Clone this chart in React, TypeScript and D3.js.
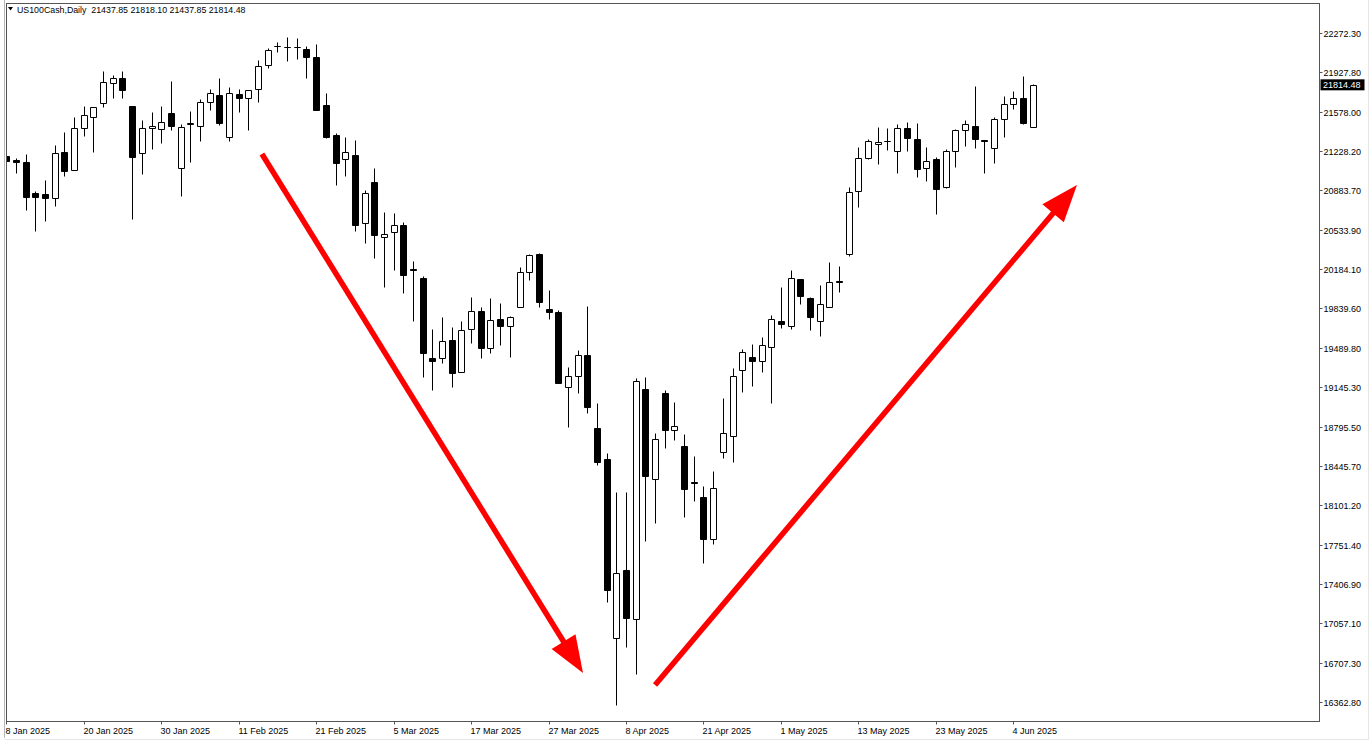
import React from "react";
import * as d3 from "d3";

// ---------- data ----------
const dates = [
  "2025-01-08","2025-01-09","2025-01-10","2025-01-13","2025-01-14","2025-01-15","2025-01-16","2025-01-17","2025-01-20","2025-01-21",
  "2025-01-22","2025-01-23","2025-01-24","2025-01-27","2025-01-28","2025-01-29","2025-01-30","2025-01-31","2025-02-03","2025-02-04",
  "2025-02-05","2025-02-06","2025-02-07","2025-02-10","2025-02-11","2025-02-12","2025-02-13","2025-02-14","2025-02-17","2025-02-18",
  "2025-02-19","2025-02-20","2025-02-21","2025-02-24","2025-02-25","2025-02-26","2025-02-27","2025-02-28","2025-03-03","2025-03-04",
  "2025-03-05","2025-03-06","2025-03-07","2025-03-10","2025-03-11","2025-03-12","2025-03-13","2025-03-14","2025-03-17","2025-03-18",
  "2025-03-19","2025-03-20","2025-03-21","2025-03-24","2025-03-25","2025-03-26","2025-03-27","2025-03-28","2025-03-31","2025-04-01",
  "2025-04-02","2025-04-03","2025-04-04","2025-04-07","2025-04-08","2025-04-09","2025-04-10","2025-04-11","2025-04-14","2025-04-15",
  "2025-04-16","2025-04-17","2025-04-21","2025-04-22","2025-04-23","2025-04-24","2025-04-25","2025-04-28","2025-04-29","2025-04-30",
  "2025-05-01","2025-05-02","2025-05-05","2025-05-06","2025-05-07","2025-05-08","2025-05-09","2025-05-12","2025-05-13","2025-05-14",
  "2025-05-15","2025-05-16","2025-05-19","2025-05-20","2025-05-21","2025-05-22","2025-05-23","2025-05-26","2025-05-27","2025-05-28",
  "2025-05-29","2025-05-30","2025-06-02","2025-06-03","2025-06-04","2025-06-05","2025-06-06"
];

const opens = [
  21186,21151,21133,20859,20850,20815,21221,21062,21433,21530,
  21654,21831,21875,21628,21213,21433,21424,21566,21080,21469,
  21451,21663,21725,21354,21734,21698,21778,21990,22158,22149,
  22149,22131,22060,21636,21371,21160,21195,20594,20956,20471,
  20515,20577,20188,20108,19402,19402,19561,19278,19658,19817,
  19490,19746,19684,19852,20161,20320,19835,19808,19146,19243,
  19428,18783,18510,16928,17529,17096,19128,18333,19093,18766,
  18624,18306,18174,17803,18571,18713,19296,19411,19375,19499,
  19729,19684,20100,19932,19729,19852,20082,20320,20877,21168,
  21292,21318,21230,21433,21336,21080,21160,20912,21230,21416,
  21451,21327,21257,21513,21645,21698,21437.85
];
const highs = [
  21265,21168,21204,20877,20974,21283,21398,21530,21628,21619,
  21937,21901,21937,21628,21504,21575,21628,21848,21469,21583,
  21689,21778,21875,21795,21778,21769,22034,22140,22193,22237,
  22228,22158,22175,21742,21389,21354,21327,20886,21080,20691,
  20683,20603,20259,20126,19658,19764,19676,19729,19941,19852,
  19932,19888,19773,20206,20320,20329,20002,19826,19322,19472,
  19861,19004,18563,18218,18218,19225,19234,18739,19119,19013,
  18730,18536,18271,18404,19048,19313,19481,19525,19587,19782,
  20029,20179,20100,19941,20047,20250,20214,20912,21265,21336,
  21442,21433,21469,21486,21477,21265,21177,21248,21424,21504,
  21804,21330,21530,21716,21760,21893,21818.10
];
const lows = [
  20992,21036,20709,20524,20612,20744,21009,21062,21363,21221,
  21619,21698,21698,20630,21027,21248,21301,21416,20833,21133,
  21318,21592,21460,21318,21575,21416,21663,21963,22105,22025,
  22043,21875,21592,21345,20930,21009,20524,20418,20285,20029,
  20179,19976,19729,19234,19119,19358,19146,19278,19534,19402,
  19446,19517,19411,19852,20091,19852,19746,19181,18792,19093,
  18916,18457,17246,16337,16849,16611,17785,17944,18607,18677,
  17997,18139,17591,17759,18518,18483,19101,19154,19278,19004,
  19667,19658,19879,19649,19596,19852,19985,20303,20736,21160,
  21115,21239,21036,21230,21001,20965,20674,20903,21089,21274,
  21257,21036,21124,21354,21601,21469,21437.85
];
const closes = [
  21142,21133,20824,20824,20815,21213,21054,21433,21548,21619,
  21840,21875,21769,21177,21433,21451,21486,21451,21442,21477,
  21663,21742,21477,21742,21698,21769,21981,22122,22155,22152,
  22146,22060,21592,21354,21124,21221,20577,20859,20488,20497,
  20577,20135,20179,19446,19375,19552,19269,19649,19817,19490,
  19737,19684,19764,20161,20312,19896,19808,19181,19243,19428,
  18969,18483,17352,17503,17105,19199,18359,18686,18766,18801,
  18245,18298,17803,18253,18739,19243,19455,19375,19517,19746,
  19702,20108,19949,19764,19879,20073,20073,20868,21168,21318,
  21310,21315,21433,21345,21071,21142,20895,21230,21416,21469,
  21336,21318,21513,21645,21698,21477,21814.48
];

const priceTickLabels = [
  "22272.30","21927.80","21578.00","21228.20","20883.70","20533.90","20184.10","19839.60","19489.80",
  "19145.30","18795.50","18445.70","18101.20","17751.40","17406.90","17057.10","16707.30","16362.80"
];

const headerSymbol = "US100Cash,Daily";
const headerValues = ["21437.85", "21818.10", "21437.85", "21814.48"];
const lastPrice = 21814.48;

// arrows as [bar index, price] anchor pairs: start -> tip
const arrowDownStart = [26.4, 21204];
const arrowDownTip = [59.56, 16619];
const arrowUpStart = [67.0, 16513];
const arrowUpTip = [110.57, 20930];

// ---------- component ----------
export default function App() {
  const W = 1371;
  const H = 747;
  const L = 6.5, R = 1319.5, T = 3.5, B = 721.5;
  const font = "'Liberation Sans', Arial, sans-serif";

  const x = d3.scaleLinear().domain([0, dates.length - 1]).range([6.3, 1032.7]);
  const y = d3.scaleLinear().domain([16362.8, 22272.3]).range([702, 33]);

  const parse = d3.timeParse("%Y-%m-%d");
  const fmt = d3.timeFormat("%-d %b %Y");
  const tickIdx = d3.range(0, dates.length, 8);

  const candles = dates.map((d, i) => {
    const o = opens[i], h = highs[i], l = lows[i], c = closes[i];
    const px = Math.round(x(i));
    const cx = px + 0.5;
    const yo = Math.round(y(o)) + 0.5;
    const yc = Math.round(y(c)) + 0.5;
    const yh = Math.round(y(h)) + 0.5;
    const yl = Math.round(y(l)) + 0.5;
    const bull = c >= o;
    const top = Math.min(yo, yc), bot = Math.max(yo, yc);
    const x0 = px - 2.5, x1 = px + 3.5;
    return (
      <g key={d}>
        <line x1={cx} x2={cx} y1={yh} y2={yl} stroke="#000" strokeWidth={1} />
        <path
          d={`M${x0},${top}H${x1}V${bot}H${x0}Z`}
          fill={bull ? "#fff" : "#000"}
          stroke="#000"
          strokeWidth={1}
        />
      </g>
    );
  });

  const arrow = (s: number[], t: number[], key: string) => {
    const sx = x(s[0]), sy = y(s[1]);
    const tx = x(t[0]), ty = y(t[1]);
    const dx = tx - sx, dy = ty - sy;
    const len = Math.hypot(dx, dy);
    const ux = dx / len, uy = dy / len;
    const headLen = 37, halfW = 14;
    const bx = tx - ux * headLen, by = ty - uy * headLen;
    const px = -uy, py = ux;
    const pts = [
      [tx, ty],
      [bx + px * halfW, by + py * halfW],
      [bx - px * halfW, by - py * halfW],
    ];
    return (
      <g key={key}>
        <line x1={sx} y1={sy} x2={bx + ux * 2} y2={by + uy * 2} stroke="#ff0000" strokeWidth={5.5} />
        <polygon points={pts.map((p) => p.join(",")).join(" ")} fill="#ff0000" />
      </g>
    );
  };

  const lastY = y(lastPrice);

  return (
    <svg
      width={W}
      height={H}
      style={{ position: "absolute", left: 0, top: 0, background: "#fff" }}
      fontFamily={font}
    >
      <rect x={0} y={0} width={W} height={H} fill="#fff" />
      {/* outer window border */}
      <line x1={4.5} x2={4.5} y1={0} y2={738} stroke="#b8b8b8" />
      <line x1={4.5} x2={1368.5} y1={739.5} y2={739.5} stroke="#e6e6e6" />
      <line x1={1368.5} x2={1368.5} y1={0} y2={739.5} stroke="#e6e6e6" />

      <defs>
        <clipPath id="plotClip">
          <rect x={L + 0.5} y={T + 0.5} width={R - L - 1} height={B - T - 1} />
        </clipPath>
      </defs>

      <g clipPath="url(#plotClip)">
        {candles}
        {arrow(arrowDownStart, arrowDownTip, "down")}
        {arrow(arrowUpStart, arrowUpTip, "up")}
      </g>

      {/* plot frame */}
      <rect x={L} y={T} width={R - L} height={B - T} fill="none" stroke="#555" strokeWidth={1} />

      {/* price axis */}
      {priceTickLabels.map((t) => {
        const ty = Math.round(y(parseFloat(t))) + 0.5;
        return (
          <g key={t}>
            <line x1={R} x2={R + 3} y1={ty} y2={ty} stroke="#555" />
            <text x={R + 4} y={ty + 3.2} fontSize={9} fill="#000">
              {t}
            </text>
          </g>
        );
      })}

      {/* last price marker */}
      <rect x={R + 1} y={lastY - 5.5} width={44} height={11} fill="#000" />
      <text x={R + 3.5} y={lastY + 3.2} fontSize={9} fill="#fff">
        {lastPrice.toFixed(2)}
      </text>

      {/* time axis */}
      {tickIdx.map((i) => {
        const tx = Math.round(x(i)) + 0.5;
        return (
          <g key={dates[i]}>
            <line x1={tx} x2={tx} y1={B} y2={B + 3} stroke="#555" />
            <text x={tx - 1} y={733.5} fontSize={9} fill="#000">
              {fmt(parse(dates[i]) as Date)}
            </text>
          </g>
        );
      })}

      {/* header */}
      <polygon points="8,7 13,7 10.5,10.5" fill="#000" />
      <text x={17} y={12.5} fontSize={8.8} fill="#000" xmlSpace="preserve">
        {headerSymbol + "  " + headerValues.join(" ")}
      </text>
    </svg>
  );
}
